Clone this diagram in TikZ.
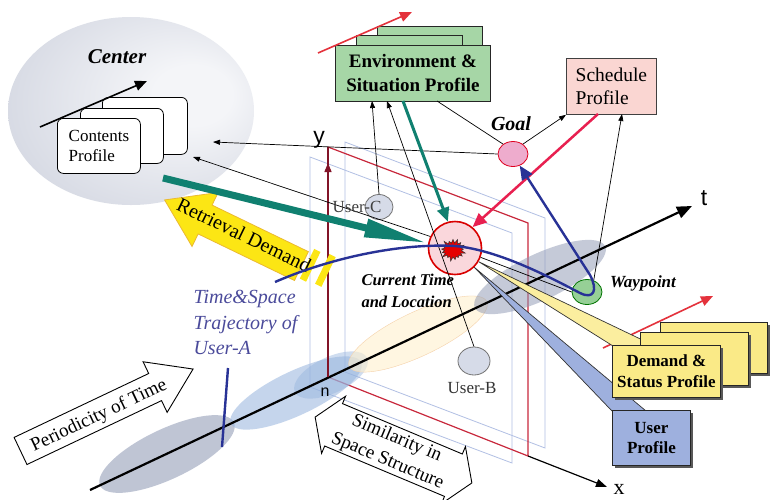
\documentclass[tikz,border=0pt]{standalone}
\usepackage{fontspec}
\setmainfont{Liberation Serif}
\newfontfamily\sansf{Liberation Sans}
\usetikzlibrary{shapes.geometric,shapes.symbols,arrows.meta,shadows}
\definecolor{cinner}{RGB}{244,245,248}
\definecolor{couter}{RGB}{192,197,212}
\definecolor{envgreen}{RGB}{166,214,166}
\definecolor{schedpink}{RGB}{250,214,210}
\definecolor{goalpink}{RGB}{238,172,205}
\definecolor{waygreen}{RGB}{150,208,150}
\definecolor{demyellow}{RGB}{250,234,135}
\definecolor{userblue}{RGB}{158,176,222}
\definecolor{tealc}{RGB}{16,128,112}
\definecolor{crimson}{RGB}{232,32,80}
\definecolor{trajblue}{RGB}{40,50,150}
\definecolor{txtblue}{RGB}{75,75,155}
\definecolor{retyellow}{RGB}{252,230,20}
\definecolor{retborder}{RGB}{235,185,50}
\definecolor{planered}{RGB}{200,40,60}
\definecolor{axisred}{RGB}{130,20,40}
\definecolor{planeblue}{RGB}{178,192,228}
\definecolor{ellgray}{RGB}{140,150,178}
\definecolor{ellblue}{RGB}{150,180,222}
\definecolor{ellyellow}{RGB}{255,240,205}
\definecolor{ellyborder}{RGB}{245,210,170}
\definecolor{curpink}{RGB}{250,215,220}
\definecolor{usergray}{RGB}{214,219,232}
\definecolor{arrred}{RGB}{228,50,60}
\pgfdeclareradialshading{censhade}{\pgfpoint{15bp}{5bp}}{color(0bp)=(cinner); color(8bp)=(cinner); color(50bp)=(couter)}
\tikzset{
  thinarrow/.style={line width=0.7pt, -{Triangle[length=7pt,width=5pt]}},
  thinline/.style={line width=0.7pt},
  cbox/.style={draw, rounded corners=6pt, fill=white, line width=0.8pt, anchor=north west, inner sep=0pt},
  ebox/.style={draw=black!85, fill=envgreen, line width=0.8pt, anchor=north west, inner sep=0pt},
  dbox/.style={draw=black!85, fill=demyellow, line width=0.8pt, anchor=north west, inner sep=0pt,
     drop shadow={shadow xshift=2.5pt, shadow yshift=-2.5pt, fill=black!65, opacity=1}},
  ubox/.style={draw=black!85, fill=userblue, line width=0.8pt, anchor=north west, inner sep=0pt,
     drop shadow={shadow xshift=2.5pt, shadow yshift=-2.5pt, fill=black!65, opacity=1}},
  tell/.style={ellipse, inner sep=0pt, rotate=25.3},
  smallell/.style={ellipse, inner sep=0pt, line width=0.8pt},
}
\begin{document}
\begin{tikzpicture}[x=1pt,y=-1pt]
\useasboundingbox (0,0) rectangle (771,499);
\fill[white] (0,0) rectangle (771,499);

% Center ellipse
\node[ellipse, minimum width=246pt, minimum height=188pt, inner sep=0pt, shade, shading=censhade] (centerell) at (131,111) {};
\node[font=\bfseries\itshape\fontsize{21}{24}\selectfont] (centerlbl) at (117,57) {Center};

% planes
\draw[line width=0.8pt, planeblue] (310,157) -- (512,233) -- (512,463) -- (310,387) -- cycle;
\draw[line width=0.8pt, planeblue] (345,142) -- (545,218) -- (545,448) -- (345,372) -- cycle;
\draw[line width=1.2pt, planered] (328,147) -- (528,223) -- (528,456) -- (328,377);

% ellipses on the time axis
\node[tell, minimum width=148pt, minimum height=50pt, fill=ellgray, fill opacity=0.55] (ell1) at (167,454) {};
\node[tell, minimum width=144pt, minimum height=44pt, fill=ellblue, fill opacity=0.55] (ell2) at (296,393) {};
\node[tell, minimum width=80pt, minimum height=36pt, fill=ellblue, fill opacity=0.45] (ell2b) at (331,375) {};
\node[tell, minimum width=152pt, minimum height=44pt, fill=ellyellow, draw=ellyborder, fill opacity=0.6] (ell3) at (418,334) {};
\node[tell, minimum width=144pt, minimum height=46pt, fill=ellgray, fill opacity=0.5] (ell4) at (540,277) {};

% axes
\coordinate (tstart) at (90,490);
\coordinate (tend) at (692,206);
\coordinate (orig) at (328,377);
\coordinate (ytop) at (328,147);
\coordinate (yarr) at (328,163);
\coordinate (xstart) at (528,456);
\coordinate (xend) at (607,487);
\draw[line width=2.2pt, -{Triangle[length=15pt,width=12pt]}] (tstart) -- (tend);
\draw[line width=1.4pt, axisred] (orig) -- (ytop);
\draw[line width=1.4pt, axisred, -{Triangle[length=9pt,width=7pt]}] (orig) -- (yarr);
\draw[line width=1.2pt, -{Triangle[length=11pt,width=8pt]}] (xstart) -- (xend);
\node[font=\sansf\fontsize{23}{26}\selectfont] (ylbl) at (319,140) {y};
\node[font=\sansf\fontsize{23}{26}\selectfont] (tlbl) at (704,198) {t};
\node[font=\fontsize{22}{26}\selectfont] (xlbl) at (619,489) {x};
\node[font=\sansf\fontsize{16}{18}\selectfont] (nlbl) at (325,392) {n};

% current location circle
\node[circle, minimum size=53pt, inner sep=0pt, draw=red!85!black, line width=1.6pt, fill=curpink] (cur) at (455,248) {};
\node[starburst, starburst point height=5pt, minimum width=27pt, minimum height=24pt, inner sep=0pt, fill=red!90!black, draw=black!80, line width=0.5pt] (burst) at (453,250) {};

% small ellipses
\node[smallell, minimum width=28pt, minimum height=25pt, fill=usergray, draw=black!55] (userc) at (379,207) {};
\node[smallell, minimum width=32pt, minimum height=28pt, fill=usergray, draw=black!55] (userb) at (474,361) {};
\node[smallell, minimum width=30pt, minimum height=25pt, fill=goalpink, draw=red!50!purple] (goal) at (513,154) {};
\node[smallell, minimum width=30pt, minimum height=25pt, fill=waygreen, draw=green!45!black] (way) at (587,292) {};

% boxes: contents
\node[cbox, minimum width=85pt, minimum height=57pt] (cp3) at (102,97) {};
\node[cbox, minimum width=83pt, minimum height=55pt] (cp2) at (80,108) {};
\node[cbox, minimum width=83pt, minimum height=55pt, align=left, font=\fontsize{17}{20}\selectfont] (cp) at (57,118) {Contents\\Profile};

% env boxes
\node[ebox, minimum width=105pt, minimum height=50pt] (env3) at (377,26) {};
\node[ebox, minimum width=106pt, minimum height=50pt] (env2) at (356,35) {};
\node[ebox, minimum width=155pt, minimum height=56pt, align=center, font=\bfseries\fontsize{19}{24}\selectfont] (env) at (335,45) {Environment \&\\Situation Profile};

% schedule
\node[draw=black!75, fill=schedpink, line width=0.8pt, anchor=north west, inner sep=0pt, minimum width=90pt, minimum height=56pt, align=left, font=\fontsize{19.5}{23}\selectfont] (sched) at (566,58) {Schedule\\Profile};

% coordinates for free ends
\coordinate (cin1) at (213,142);
\coordinate (cin2) at (193,157);
\coordinate (envin1) at (372,101);
\coordinate (envin2) at (387,101);
\coordinate (envout) at (437,101);
\coordinate (envteal) at (403,101);
\coordinate (schedred) at (598,114);
\coordinate (schedin) at (622,114);
\coordinate (tealstart) at (163,178);
\coordinate (redA1) at (318,53);
\coordinate (redA2) at (412,12);
\coordinate (redB1) at (603,348);
\coordinate (redB2) at (713,296);
\coordinate (blkA1) at (40,127);
\coordinate (blkA2) at (147,81);
\coordinate (trajstart) at (275,282);
\coordinate (trajlowA) at (228,368);
\coordinate (trajlowB) at (222,447);

% thin connectors
\draw[thinarrow] (goal.west) -- (cin1);
\draw[thinarrow] (cur.155) -- (cin2);
\draw[thinarrow] (userc.north) -- (envin1);
\draw[thinarrow] (userb.north) -- (envin2);
\draw[thinline] (cur.-20) -- (way.west);
\draw[thinarrow] (goal.45) -- (sched.south west);
\draw[thinarrow] (way.60) -- (schedin);
\draw[thinline] (envout) -- (goal.135);

% user labels (over the lines)
\node[font=\fontsize{17}{20}\selectfont, text=black!75] (ucl) at (357,207) {User-C};
\node[font=\fontsize{17}{20}\selectfont, text=black!80] (ubl) at (472,388) {User-B};

% retrieval demand arrow
\begin{scope}[shift={(233,233)}, rotate=-25.8]
\filldraw[fill=retyellow, draw=retborder, line width=0.8pt] (-76,0) -- (-31,-30) -- (-31,-16) -- (76,-16) -- (76,16) -- (-31,16) -- (-31,30) -- cycle;
\fill[retyellow] (80,-21) rectangle (87,12);
\fill[retyellow] (96,-23) rectangle (103,10);
\end{scope}
\node[rotate=-25.8, font=\fontsize{20}{22}\selectfont] (rettxt) at (244,235) {Retrieval Demand};

% teal arrows
\draw[line width=7pt, tealc, -{Triangle[length=64pt,width=17pt]}] (tealstart) -- (cur.170);
\draw[line width=3pt, tealc, -{Triangle[length=14pt,width=12pt]}] (envteal) -- (cur.105);
% crimson arrow
\draw[line width=2.5pt, crimson, -{Triangle[length=14pt,width=12pt]}] (schedred) -- (cur.50);

% red / black direction arrows
\draw[line width=1.6pt, arrred, -{Triangle[length=12pt,width=10pt]}] (redA1) -- (redA2);
\draw[line width=1.6pt, -{Triangle[length=12pt,width=10pt]}] (blkA1) -- (blkA2);

% trajectory
\draw[line width=2.4pt, trajblue, -{Triangle[length=14pt,width=12pt]}] (trajstart) .. controls (330,258) and (400,243) .. (455,246) .. controls (500,250) and (555,280) .. (580,293) .. controls (594,300) and (598,290) .. (590,275) -- (goal.-60);
\draw[line width=2.4pt, trajblue] (trajlowA) -- (trajlowB);
\node[anchor=north west, align=left, text=txtblue, font=\itshape\fontsize{20}{25.5}\selectfont] (trajtxt) at (190,287) {Time\&Space\\Trajectory of\\User-A};

% labels
\node[font=\bfseries\itshape\fontsize{20}{22}\selectfont] (goallbl) at (511,124) {Goal};
\node[font=\bfseries\itshape\fontsize{17}{20}\selectfont] (waylbl) at (643,283) {Waypoint};
\node[anchor=west, align=left, font=\bfseries\itshape\fontsize{16.5}{22}\selectfont] (curtxt) at (358,291) {Current Time\\and Location};

% periodicity arrow
\begin{scope}[shift={(106.8,410)}, rotate=25.4]
\filldraw[fill=white, draw=black, line width=0.9pt] (-95.5,-15) -- (53.5,-15) -- (53.5,-28) -- (95.5,0) -- (53.5,28) -- (53.5,15) -- (-95.5,15) -- cycle;
\end{scope}
\node[rotate=25.4, font=\fontsize{19}{22}\selectfont] (pertxt) at (99,416) {Periodicity of Time};

% similarity double arrow
\begin{scope}[shift={(393.5,450)}, rotate=-22.8]
\filldraw[fill=white, draw=black, line width=0.9pt] (-85,0) -- (-65,-31) -- (-65,-23) -- (65,-23) -- (65,-31) -- (85,0) -- (65,31) -- (65,23) -- (-65,23) -- (-65,31) -- cycle;
\end{scope}
\node[rotate=-22.8, align=center, font=\fontsize{19}{24}\selectfont] (simtxt) at (392,450) {Similarity in\\Space Structure};

% wedges
\draw[line width=1.6pt, arrred, -{Triangle[length=12pt,width=10pt]}] (redB1) -- (redB2);
\filldraw[fill=demyellow!80, draw=black!80, line width=0.7pt] (cur.-30) -- (613,346) -- (655,346) -- cycle;
\filldraw[fill=userblue, draw=black!80, line width=0.7pt] (cur.-45) -- (612,411) -- (646,411) -- cycle;

% demand and user boxes
\node[dbox, minimum width=107pt, minimum height=51pt] (dem3) at (660,322) {};
\node[dbox, minimum width=108pt, minimum height=53pt] (dem2) at (640,332) {};
\node[dbox, minimum width=108pt, minimum height=52pt, align=center, font=\bfseries\fontsize{17}{21}\selectfont] (dem) at (612,345) {Demand \&\\Status Profile};
\node[ubox, minimum width=78pt, minimum height=55pt, align=center, font=\bfseries\fontsize{17}{20}\selectfont] (userp) at (612,410) {User\\Profile};
\end{tikzpicture}
\end{document}
